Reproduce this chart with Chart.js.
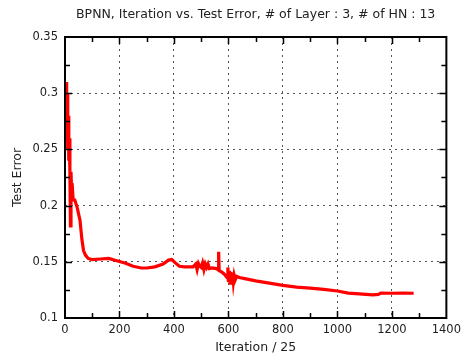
<!DOCTYPE html>
<html>
<head>
<meta charset="utf-8">
<script src="https://cdn.jsdelivr.net/npm/chart.js@4/dist/chart.umd.min.js"></script>
<style>
html,body{margin:0;padding:0;background:#fff;}
#wrap{width:466px;height:360px;}
</style>
</head>
<body>
<div id="wrap"><canvas id="c" width="466" height="360"></canvas></div>
<script>
const titleText = "BPNN, Iteration vs. Test Error, # of Layer : 3, # of HN : 13";
const xTitle = "Iteration / 25";
const yTitle = "Test Error";
const xTickValues = [0, 200, 400, 600, 800, 1000, 1200, 1400];
const xTickLabels = ["0", "200", "400", "600", "800", "1000", "1200", "1400"];
const yTickValues = [0.1, 0.15, 0.2, 0.25, 0.3, 0.35];
const yTickLabels = ["0.1", "0.15", "0.2", "0.25", "0.3", "0.35"];

const iterations = [2,4,6,8,10,12,14,16,18,20,22,24,26,30,36,45,55,62,68,75,85,100,130,160,190,220,250,280,300,330,360,380,392,405,420,440,470,480,485,490,495,500,505,510,515,520,525,530,540,555,562,564,566,575,585,595,598,600,603,606,609,612,615,618,621,625,630,640,660,700,750,800,850,900,950,1000,1040,1080,1130,1150,1160,1200,1240,1280];
const testError = [0.26,0.31,0.27,0.30,0.25,0.28,0.24,0.26,0.23,0.182,0.23,0.215,0.22,0.205,0.205,0.198,0.187,0.17,0.16,0.156,0.153,0.152,0.1525,0.153,0.151,0.149,0.146,0.1445,0.1445,0.1455,0.148,0.1515,0.152,0.149,0.146,0.1455,0.1455,0.148,0.143,0.1485,0.146,0.145,0.149,0.143,0.148,0.145,0.148,0.144,0.1445,0.144,0.143,0.159,0.142,0.141,0.139,0.136,0.145,0.132,0.142,0.131,0.141,0.133,0.14,0.132,0.138,0.134,0.137,0.136,0.135,0.133,0.131,0.129,0.1275,0.1265,0.1255,0.124,0.1222,0.1215,0.1205,0.121,0.1222,0.122,0.1222,0.122];

const FONT = "'DejaVu Sans', Verdana, sans-serif";
const TXT = '#222';

const framePlugin = {
  id: 'frame',
  afterDatasetsDraw(chart) {
    const {ctx, chartArea: a, scales: {x, y}} = chart;
    ctx.save();
    ctx.strokeStyle = '#000';
    ctx.lineWidth = 1.5;
    for (let v = 100; v < 1400; v += 100) {
      const px = Math.round(x.getPixelForValue(v)) + 0.5;
      const len = (v % 200 === 0) ? 7 : 5;
      ctx.beginPath();
      ctx.moveTo(px, a.bottom); ctx.lineTo(px, a.bottom - len);
      ctx.moveTo(px, a.top); ctx.lineTo(px, a.top + len);
      ctx.stroke();
    }
    for (let i = 1; i < 10; i++) {
      const v = 0.1 + i * 0.025;
      const py = Math.round(y.getPixelForValue(v)) + 0.5;
      const len = (i % 2 === 0) ? 7 : 5;
      ctx.beginPath();
      ctx.moveTo(a.left, py); ctx.lineTo(a.left + len, py);
      ctx.moveTo(a.right, py); ctx.lineTo(a.right - len, py);
      ctx.stroke();
    }
    ctx.lineWidth = 2;
    ctx.strokeRect(a.left, a.top, a.right - a.left, a.bottom - a.top);
    ctx.restore();
  }
};

new Chart(document.getElementById('c'), {
  type: 'scatter',
  data: {
    datasets: [{
      data: iterations.map((v, i) => ({x: v, y: testError[i]})),
      showLine: true,
      borderColor: '#ff0000',
      borderWidth: 3.2,
      pointRadius: 0,
      tension: 0,
      fill: false
    }]
  },
  options: {
    responsive: false,
    animation: false,
    layout: {padding: {left: 0, right: 16, top: 0, bottom: 0}},
    plugins: {
      legend: {display: false},
      tooltip: {enabled: false},
      title: {
        display: true,
        text: titleText,
        fullSize: false,
        color: TXT,
        font: {family: FONT, size: 12.5, weight: 'normal'},
        padding: {top: 7, bottom: 15}
      }
    },
    scales: {
      x: {
        type: 'linear',
        min: 0, max: 1400,
        afterFit(s) { s.height = 42; },
        afterBuildTicks(s) { s.ticks = xTickValues.map(v => ({value: v})); },
        ticks: {
          color: TXT, font: {family: FONT, size: 11.5}, padding: 5, maxRotation: 0,
          callback: (v) => { const i = xTickValues.indexOf(v); return i >= 0 ? xTickLabels[i] : ''; }
        },
        grid: {
          drawTicks: false,
          color: (c) => (c.tick && (c.tick.value === 0 || c.tick.value === 1400)) ? 'rgba(0,0,0,0)' : '#555',
          lineWidth: 1
        },
        border: {display: false, dash: [2, 4]},
        title: {display: true, text: xTitle, color: TXT, font: {family: FONT, size: 12.5}, padding: {top: 0, bottom: 5}}
      },
      y: {
        type: 'linear',
        min: 0.1, max: 0.35,
        afterFit(s) { s.width = 65; },
        afterBuildTicks(s) { s.ticks = yTickValues.map(v => ({value: v})); },
        ticks: {
          color: TXT, font: {family: FONT, size: 11.5}, padding: 7,
          callback: (v) => { const i = yTickValues.findIndex(t => Math.abs(t - v) < 1e-9); return i >= 0 ? yTickLabels[i] : ''; }
        },
        grid: {
          drawTicks: false,
          color: (c) => (c.tick && (Math.abs(c.tick.value - 0.1) < 1e-9 || Math.abs(c.tick.value - 0.35) < 1e-9)) ? 'rgba(0,0,0,0)' : '#555',
          lineWidth: 1
        },
        border: {display: false, dash: [2, 4]},
        title: {display: true, text: yTitle, color: TXT, font: {family: FONT, size: 12.5}, padding: {top: 10, bottom: 0}}
      }
    }
  },
  plugins: [framePlugin]
});
</script>
</body>
</html>
